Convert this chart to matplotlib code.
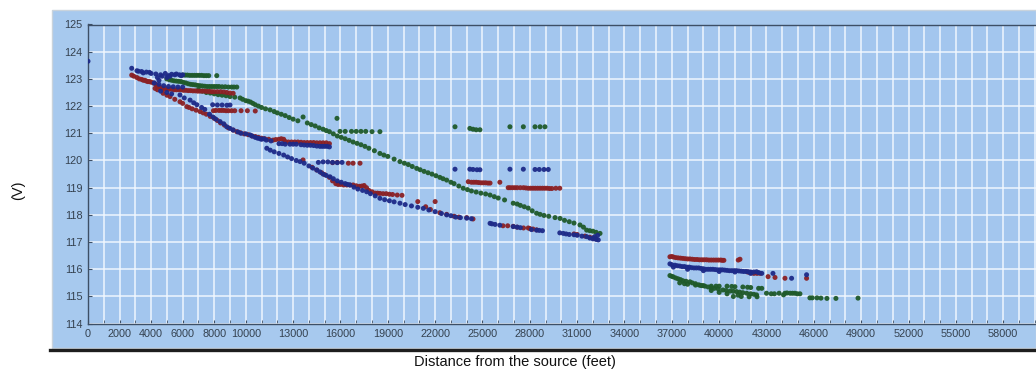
import matplotlib
matplotlib.use("Agg")
import matplotlib.pyplot as plt
from matplotlib.patches import Rectangle
from matplotlib.lines import Line2D

plt.rcParams['font.family'] = ['Liberation Sans', 'DejaVu Sans']

# ---------------- data: (distance ft, voltage V) ----------------
blue_points = [
    (0, 123.65),
    (2770, 123.39), (3100, 123.30), (3200, 123.28), (3400, 123.27), (3500, 123.22), (3700, 123.25), (3900, 123.24),
    (4000, 123.20), (4300, 123.18), (4400, 123.05), (4500, 122.95), (4600, 123.15), (4700, 123.10), (4900, 123.20),
    (5000, 123.05), (5100, 123.12), (5200, 123.10), (5300, 123.17), (5500, 123.15), (5600, 123.18), (5800, 123.15),
    (5900, 123.12), (6000, 123.15),
    (4200, 122.85), (4500, 122.80), (4800, 122.75), (5100, 122.72), (5400, 122.71), (5700, 122.70), (6000, 122.70),
    (4600, 122.55), (5000, 122.50), (5300, 122.45), (5830, 122.41), (6100, 122.30), (6470, 122.22), (6700, 122.12),
    (6900, 122.05), (7200, 121.95), (7400, 121.88), (7700, 121.70), (7920, 121.60), (8100, 121.52), (8370, 121.43),
    (8600, 121.35), (8790, 121.24), (9000, 121.18), (9200, 121.12), (9500, 121.05), (9700, 121.00), (10000, 120.98),
    (10270, 120.94), (10400, 120.90), (10600, 120.85), (10750, 120.82), (10900, 120.80), (11000, 120.78),
    (11150, 120.80), (11300, 120.75), (11600, 120.72),
    (7900, 122.05), (8200, 122.04), (8500, 122.04), (8800, 122.03), (9000, 122.04),
    (12100, 120.62), (12300, 120.62), (12500, 120.60), (12800, 120.60), (13000, 120.60), (13200, 120.60),
    (13500, 120.58), (13700, 120.57), (13900, 120.56), (14100, 120.56), (14300, 120.55), (14500, 120.53),
    (14700, 120.52), (14850, 120.52), (15000, 120.52), (15150, 120.52), (15300, 120.50),
    (11330, 120.45), (11550, 120.38), (11800, 120.32), (12100, 120.26), (12400, 120.20), (12650, 120.13),
    (12900, 120.07), (13200, 120.00), (13440, 119.96), (13700, 119.90), (14000, 119.80), (14250, 119.72),
    (14500, 119.65), (14700, 119.58), (14900, 119.50), (15100, 119.45), (15340, 119.40), (15550, 119.33),
    (15800, 119.25), (16050, 119.20), (16300, 119.15), (16450, 119.12), (16600, 119.10), (16850, 119.02),
    (17100, 118.95), (17400, 118.90), (17660, 118.85), (17900, 118.78), (18200, 118.70), (18500, 118.61),
    (18800, 118.56), (19100, 118.52), (19400, 118.48), (19770, 118.43), (20100, 118.38), (20500, 118.33),
    (20900, 118.28), (21250, 118.24), (21600, 118.18), (22000, 118.12), (22400, 118.05), (22730, 118.00),
    (23000, 117.97), (23300, 117.92), (23600, 117.90), (24000, 117.88), (24300, 117.86),
    (25480, 117.69), (25600, 117.67), (25800, 117.65), (26100, 117.62), (26950, 117.57), (27200, 117.55),
    (27400, 117.53), (28100, 117.46), (28430, 117.44), (28600, 117.43), (28800, 117.42), (29900, 117.34),
    (30120, 117.32), (30300, 117.30), (30500, 117.28), (30800, 117.27), (31000, 117.25), (31300, 117.22),
    (31600, 117.20), (31800, 117.15), (32000, 117.12), (32100, 117.20), (32200, 117.10), (32300, 117.25),
    (32340, 117.08),
    (14600, 119.93), (14900, 119.95), (15200, 119.95), (15500, 119.93), (15800, 119.92), (16100, 119.93),
    (23260, 119.68), (24200, 119.68), (24400, 119.67), (24650, 119.66), (24840, 119.66), (26740, 119.68),
    (27590, 119.68), (28330, 119.67), (28600, 119.67), (28900, 119.67), (29170, 119.67),
    (36880, 116.20), (37000, 116.17), (37200, 116.15), (37350, 116.13), (37500, 116.12), (37650, 116.10),
    (37800, 116.10), (37950, 116.08), (38100, 116.08), (38250, 116.06), (38400, 116.05), (38550, 116.05),
    (38700, 116.05), (38850, 116.03), (39000, 116.02), (39150, 116.00), (39300, 116.00), (39450, 116.00),
    (39600, 116.00), (39750, 115.99), (39900, 115.98), (40050, 115.98), (40200, 115.98), (40350, 115.97),
    (40500, 115.96), (40650, 115.95), (40800, 115.95), (40950, 115.95), (41100, 115.95), (41250, 115.94),
    (41400, 115.93), (41550, 115.92), (41700, 115.92), (41850, 115.91), (42000, 115.90), (42200, 115.90),
    (42370, 115.91), (42500, 115.88), (42700, 115.85),
    (37100, 116.08), (38000, 116.00), (39000, 115.95), (40000, 115.92), (41000, 115.90), (42000, 115.85),
    (43410, 115.85), (44590, 115.67), (45540, 115.80),
]

red_points = [
    (2770, 123.14), (2900, 123.10), (3100, 123.05), (3250, 123.00), (3400, 122.98), (3500, 122.95), (3600, 122.95),
    (3700, 122.92), (3800, 122.90), (3900, 122.90), (4000, 122.88), (4150, 122.85), (4300, 122.80), (4400, 122.75),
    (4500, 122.72), (4600, 122.68), (4250, 122.65), (4400, 122.60),
    (4700, 122.65), (4850, 122.63), (5000, 122.62), (5150, 122.62), (5300, 122.62), (5450, 122.60), (5600, 122.60),
    (5750, 122.60), (5900, 122.60), (6050, 122.58), (6200, 122.58), (6350, 122.57), (6500, 122.57), (6650, 122.56),
    (6800, 122.56), (6950, 122.55), (7100, 122.55), (7250, 122.55), (7400, 122.55), (7550, 122.54), (7700, 122.54),
    (7850, 122.53), (8000, 122.53), (8200, 122.53), (8400, 122.53), (8600, 122.52), (8800, 122.50), (9000, 122.48),
    (9200, 122.47),
    (4760, 122.47), (5000, 122.40), (5200, 122.35), (5500, 122.25), (5830, 122.16), (6000, 122.10), (6260, 121.98),
    (6400, 121.95), (6600, 121.90), (6850, 121.85), (7100, 121.80), (7300, 121.75), (7500, 121.70), (7750, 121.62),
    (8000, 121.55), (8200, 121.47), (8400, 121.38), (8650, 121.30), (8900, 121.20), (9200, 121.12), (9430, 121.06),
    (9650, 121.02), (9900, 120.98), (10150, 120.95), (10400, 120.90), (10600, 120.88), (10800, 120.85),
    (11000, 120.82), (11200, 120.80), (11450, 120.78), (11730, 120.75), (11900, 120.77), (12100, 120.78),
    (12250, 120.80), (12400, 120.78),
    (7950, 121.83), (8100, 121.84), (8300, 121.84), (8450, 121.84), (8600, 121.84), (8750, 121.83), (8900, 121.83),
    (9100, 121.83), (9300, 121.83), (9700, 121.83), (10100, 121.83), (10600, 121.82),
    (12500, 120.70), (12700, 120.68), (12900, 120.68), (13100, 120.68), (13300, 120.68), (13500, 120.67),
    (13700, 120.66), (13900, 120.66), (14100, 120.66), (14300, 120.66), (14500, 120.65), (14700, 120.65),
    (14900, 120.65), (15100, 120.65), (15300, 120.62),
    (13630, 120.02), (14200, 119.75), (14500, 119.65), (14800, 119.55), (15000, 119.48), (15300, 119.38),
    (15500, 119.25), (15700, 119.15), (15850, 119.12), (16000, 119.12), (16200, 119.10), (16400, 119.10),
    (16600, 119.10), (16800, 119.10), (17000, 119.07), (17200, 119.05), (17350, 119.06), (17500, 119.08),
    (17650, 119.00), (17800, 118.90), (18000, 118.85), (18200, 118.80), (18350, 118.80), (18500, 118.79),
    (18700, 118.78), (18900, 118.78), (19100, 118.76), (19300, 118.75), (19600, 118.73), (19900, 118.72),
    (20900, 118.49), (22000, 118.49), (21400, 118.30), (21700, 118.20), (22300, 118.08), (22730, 118.02),
    (23200, 117.95), (23500, 117.92), (24000, 117.90), (24400, 117.85), (26300, 117.60), (26600, 117.60),
    (26950, 117.58), (27200, 117.55), (27600, 117.52), (27900, 117.52), (28000, 117.50), (28200, 117.48),
    (28430, 117.45), (30800, 117.30), (31000, 117.28), (31500, 117.22), (31800, 117.18), (32000, 117.15),
    (32200, 117.12),
    (15500, 119.92), (15800, 119.93), (16500, 119.90), (16800, 119.90), (17240, 119.90),
    (24100, 119.22), (24300, 119.20), (24450, 119.20), (24600, 119.20), (24750, 119.19), (24900, 119.18),
    (25050, 119.18), (25200, 119.18), (25350, 119.17), (25480, 119.17), (26100, 119.20),
    (26630, 119.00), (26750, 119.00), (26900, 119.00), (27050, 119.00), (27200, 119.00), (27400, 119.00),
    (27600, 119.00), (27750, 118.99), (27900, 118.98), (28050, 118.98), (28200, 118.98), (28350, 118.98),
    (28500, 118.98), (28650, 118.98), (28800, 118.98), (28950, 118.98), (29100, 118.98), (29250, 118.97),
    (29400, 118.97), (29650, 118.98), (29900, 118.98),
    (36880, 116.46), (37000, 116.47), (37100, 116.45), (37250, 116.43), (37400, 116.42), (37550, 116.41),
    (37700, 116.40), (37850, 116.39), (38000, 116.38), (38150, 116.38), (38300, 116.37), (38450, 116.36),
    (38600, 116.36), (38750, 116.35), (38900, 116.35), (39050, 116.35), (39200, 116.35), (39350, 116.34),
    (39500, 116.34), (39650, 116.34), (39800, 116.34), (39950, 116.34), (40100, 116.34), (40200, 116.33),
    (40300, 116.33), (41210, 116.34), (41320, 116.37),
    (41800, 115.90), (41950, 115.88), (42050, 115.87), (42200, 115.85), (42400, 115.85), (42590, 115.85),
    (43100, 115.73), (43540, 115.70), (44170, 115.67), (45540, 115.67),
]

green_points = [
    (6000, 123.14), (6150, 123.14), (6300, 123.14), (6450, 123.13), (6600, 123.13), (6750, 123.13), (6900, 123.13),
    (7050, 123.13), (7200, 123.13), (7350, 123.12), (7500, 123.12), (7650, 123.12), (8160, 123.12),
    (4990, 123.00), (5150, 122.97), (5300, 122.95), (5450, 122.93), (5600, 122.92), (5750, 122.91), (5900, 122.90),
    (6050, 122.87), (6200, 122.85), (6350, 122.82), (6500, 122.80), (6650, 122.79), (6800, 122.78), (6950, 122.76),
    (7100, 122.75), (7250, 122.74), (7400, 122.73), (7550, 122.72), (7700, 122.72), (7850, 122.72), (8000, 122.72),
    (8150, 122.72), (8300, 122.72), (8500, 122.71), (8700, 122.71), (8900, 122.70), (9100, 122.70), (9250, 122.70),
    (9430, 122.70),
    (7000, 122.60), (7250, 122.55), (7500, 122.50), (7750, 122.48), (8000, 122.45), (8250, 122.42), (8500, 122.40),
    (8750, 122.38), (9000, 122.35), (9300, 122.33), (9640, 122.30), (9800, 122.25), (10000, 122.20),
    (10150, 122.18), (10300, 122.15), (10450, 122.10), (10600, 122.05), (10800, 122.00), (11000, 121.95),
    (11250, 121.90), (11540, 121.86), (11800, 121.80), (12000, 121.75), (12250, 121.70), (12500, 121.65),
    (12750, 121.58), (13000, 121.52), (13300, 121.46), (13630, 121.60), (13900, 121.38), (14150, 121.32),
    (14400, 121.27), (14650, 121.20), (14900, 121.15), (15100, 121.10), (15300, 121.06), (15550, 120.98),
    (15800, 120.90), (16050, 120.85), (16300, 120.80), (16550, 120.74), (16800, 120.68), (17050, 120.63),
    (17300, 120.58), (17550, 120.52), (17800, 120.45), (18150, 120.36), (18500, 120.26), (18750, 120.20),
    (19000, 120.15), (19400, 120.05), (19770, 119.96), (20050, 119.90), (20300, 119.85), (20550, 119.78),
    (20830, 119.71), (21050, 119.66), (21300, 119.60), (21550, 119.55), (21800, 119.50), (22050, 119.44),
    (22300, 119.38), (22500, 119.33), (22730, 119.28), (23000, 119.20), (23200, 119.15), (23500, 119.06),
    (23780, 118.98), (24050, 118.93), (24300, 118.88), (24600, 118.84), (24900, 118.80), (25200, 118.77),
    (25480, 118.73), (25750, 118.67), (26000, 118.62), (26400, 118.55), (26950, 118.43), (27200, 118.40),
    (27400, 118.35), (27650, 118.30), (27900, 118.25), (28150, 118.15), (28430, 118.06), (28650, 118.02),
    (28900, 117.98), (29200, 117.95), (29600, 117.90), (29920, 117.87), (30200, 117.80), (30500, 117.75),
    (30800, 117.70), (31180, 117.63), (31400, 117.55), (31600, 117.44), (31800, 117.42), (32000, 117.40),
    (32200, 117.36), (32450, 117.32),
    (15780, 121.55),
    (15970, 121.07), (16300, 121.07), (16700, 121.07), (17000, 121.07), (17300, 121.07), (17600, 121.07),
    (18000, 121.06), (18500, 121.06),
    (23260, 121.24), (24200, 121.18), (24400, 121.15), (24600, 121.13), (24840, 121.13), (26740, 121.24),
    (27590, 121.24), (28330, 121.24), (28650, 121.24), (28960, 121.24),
    (36880, 115.77), (37000, 115.74), (37100, 115.72), (37250, 115.68), (37400, 115.65), (37550, 115.62),
    (37700, 115.58), (37900, 115.56), (38150, 115.54), (38300, 115.50), (38500, 115.47), (38700, 115.43),
    (38900, 115.40), (39100, 115.38), (39300, 115.35), (39500, 115.32), (39700, 115.30), (39950, 115.27),
    (40240, 115.24), (40450, 115.22), (40700, 115.20), (40900, 115.19), (41100, 115.18), (41300, 115.16),
    (41500, 115.14), (41750, 115.12), (42000, 115.10), (42200, 115.08), (42370, 115.06),
    (37500, 115.50), (37800, 115.47), (38000, 115.45), (38500, 115.42), (38800, 115.41), (39000, 115.40),
    (39500, 115.38), (39800, 115.38), (40000, 115.38), (40500, 115.38), (40800, 115.37), (41000, 115.36),
    (41500, 115.35), (41800, 115.34), (42000, 115.33), (42500, 115.30), (42700, 115.30),
    (39500, 115.22), (40000, 115.15), (40500, 115.10), (40900, 115.00), (41200, 115.05), (41400, 115.00),
    (41900, 114.99), (42400, 114.99), (43000, 115.12), (43300, 115.10), (43500, 115.10), (43800, 115.12),
    (44080, 115.06), (44170, 115.12), (44300, 115.13), (44500, 115.12), (44650, 115.12), (44800, 115.12),
    (44950, 115.10), (45120, 115.10), (45750, 114.95), (45900, 114.95), (46200, 114.95), (46450, 114.94),
    (46830, 114.93), (47400, 114.93), (48800, 114.94),
]

x_tick_values = [0, 2000, 4000, 6000, 8000, 10000, 13000, 16000, 19000, 22000, 25000,
                 28000, 31000, 34000, 37000, 40000, 43000, 46000, 49000, 52000, 55000, 58000]
y_tick_values = [114, 115, 116, 117, 118, 119, 120, 121, 122, 123, 124, 125]

# ---------------- figure ----------------
W, H = 1036, 375
fig = plt.figure(figsize=(W / 100, H / 100), dpi=100)
fig.patch.set_facecolor('white')

panel = '#a7c9ee'
fig.patches.append(Rectangle((52 / W, 1 - 348 / H), 1 - 52 / W, (348 - 10) / H,
                             transform=fig.transFigure, facecolor=panel,
                             edgecolor='#c9d3dc', linewidth=1.0, zorder=-10))
fig.lines.append(Line2D([50 / W, 1.0], [1 - 349.5 / H, 1 - 349.5 / H],
                        transform=fig.transFigure, color='#1e1e1e', linewidth=2.4, zorder=-5))

ax = fig.add_axes([88 / W, 1 - 323.7 / H, (W - 88) / W, (323.7 - 24.5) / H])
ax.set_zorder(5)
ax.set_facecolor('#a3c6ee')
ax.set_xlim(0, 60080)
ax.set_ylim(114, 125)

ax.set_xticks(x_tick_values)
ax.set_xticklabels([str(v) for v in x_tick_values])
ax.set_xticks(range(0, 61000, 1000), minor=True)
ax.set_yticks(y_tick_values)
ax.set_yticklabels([str(v) for v in y_tick_values])

grid_kw = dict(color='#f2f8ff', linewidth=1.1, alpha=0.95)
ax.grid(True, which='minor', axis='x', **grid_kw)
ax.grid(True, which='major', axis='x', **grid_kw)
ax.grid(True, which='major', axis='y', **grid_kw)
ax.set_axisbelow(True)

ax.spines['right'].set_visible(False)
for s in ['left', 'bottom', 'top']:
    ax.spines[s].set_color('#3d4f66')
    ax.spines[s].set_linewidth(1.0)

ax.tick_params(axis='x', which='both', direction='in', length=3, color='#3d4f66',
               labelsize=7.8, labelcolor='#34414f', pad=4)
ax.tick_params(axis='y', direction='in', length=3, color='#3d4f66',
               labelsize=7.8, labelcolor='#34414f', pad=4)

ms = 13
for pts, col, z in [(green_points, '#1f5a2a', 3), (red_points, '#8a2024', 4), (blue_points, '#1d2a88', 5)]:
    xs = [p[0] for p in pts]
    ys = [p[1] for p in pts]
    ax.scatter(xs, ys, s=ms, color=col, edgecolors='none', alpha=0.95, zorder=z)

fig.text(515 / W, 1 - 362 / H, 'Distance from the source (feet)', ha='center', va='center',
         fontsize=10.5, color='#111111')
fig.text(18 / W, 1 - 190 / H, '(V)', ha='center', va='center', rotation=90,
         fontsize=10.5, color='#111111')

fig.savefig('out.png', dpi=100, facecolor=fig.get_facecolor())
